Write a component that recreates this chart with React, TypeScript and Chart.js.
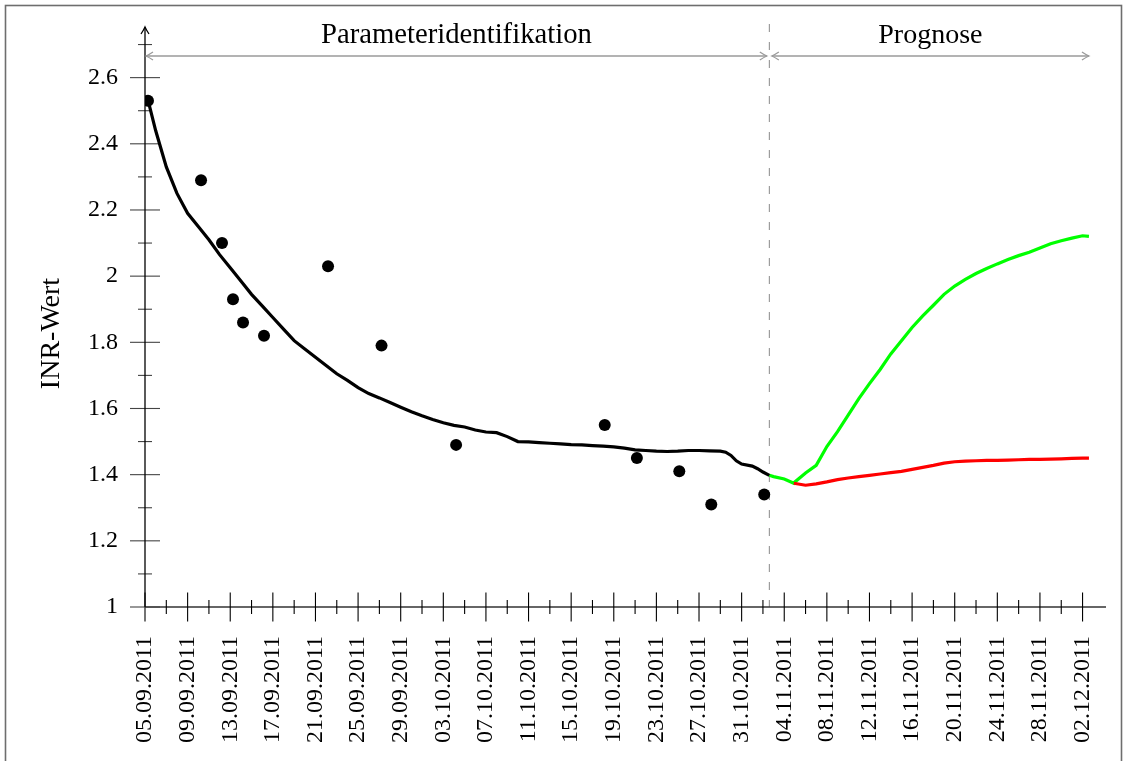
import { useEffect, useRef } from 'react';
import { Chart, registerables } from 'chart.js';

Chart.register(...registerables);

// ---- data (x = days after 05.09.2011) ----
const xTickDays = [0, 4, 8, 12, 16, 20, 24, 28, 32, 36, 40, 44, 48, 52, 56, 60, 64, 68, 72, 76, 80, 84, 88];
const xTickLabels = [
  '05.09.2011', '09.09.2011', '13.09.2011', '17.09.2011', '21.09.2011', '25.09.2011',
  '29.09.2011', '03.10.2011', '07.10.2011', '11.10.2011', '15.10.2011', '19.10.2011',
  '23.10.2011', '27.10.2011', '31.10.2011', '04.11.2011', '08.11.2011', '12.11.2011',
  '16.11.2011', '20.11.2011', '24.11.2011', '28.11.2011', '02.12.2011',
];
const xMinorDays = [2, 6, 10, 14, 18, 22, 26, 30, 34, 38, 42, 46, 50, 54, 58, 62, 66, 70, 74, 78, 82, 86];
const yTickValues = [1, 1.2, 1.4, 1.6, 1.8, 2, 2.2, 2.4, 2.6];
const yTickLabels = ['1', '1.2', '1.4', '1.6', '1.8', '2', '2.2', '2.4', '2.6'];
const yMinorValues = [1.1, 1.3, 1.5, 1.7, 1.9, 2.1, 2.3, 2.5, 2.7];

const measDays = [0.28, 5.26, 7.23, 8.26, 9.2, 11.17, 17.18, 22.2, 29.2, 43.15, 46.17, 50.15, 53.15, 58.12];
const measValues = [2.53, 2.29, 2.10, 1.93, 1.86, 1.82, 2.03, 1.79, 1.49, 1.55, 1.45, 1.41, 1.31, 1.34];

const fitDays = [0.3, 1, 2, 3, 4, 5, 6, 7, 8, 9, 10, 11, 12, 13, 14, 15, 16, 17, 18, 19, 20, 21, 22, 23, 24, 25, 26, 27, 28, 29, 30, 31, 32, 33, 34, 35, 36, 37, 38, 39, 40, 41, 42, 43, 44, 45, 46, 47, 48, 49, 50, 51, 52, 53, 54, 54.5, 55, 55.5, 56, 57, 57.5, 58, 58.6];
const fitValues = [2.53, 2.44, 2.33, 2.25, 2.19, 2.15, 2.11, 2.065, 2.025, 1.985, 1.945, 1.91, 1.875, 1.84, 1.805, 1.78, 1.755, 1.73, 1.705, 1.685, 1.663, 1.645, 1.632, 1.618, 1.604, 1.59, 1.578, 1.567, 1.557, 1.549, 1.544, 1.535, 1.529, 1.527, 1.515, 1.5, 1.499, 1.497, 1.495, 1.493, 1.491, 1.49, 1.488, 1.486, 1.484, 1.48, 1.475, 1.473, 1.471, 1.47, 1.471, 1.473, 1.473, 1.472, 1.471, 1.468, 1.458, 1.442, 1.432, 1.426, 1.418, 1.408, 1.398];

const greenDays = [58.6, 59, 60, 60.9, 61, 62, 63, 64, 65, 66, 67, 68, 69, 70, 71, 72, 73, 74, 75, 76, 77, 78, 79, 80, 81, 82, 83, 84, 85, 86, 87, 88, 88.6];
const greenValues = [1.398, 1.394, 1.387, 1.374, 1.378, 1.405, 1.428, 1.485, 1.53, 1.58, 1.63, 1.675, 1.718, 1.765, 1.805, 1.845, 1.88, 1.912, 1.945, 1.97, 1.99, 2.008, 2.023, 2.037, 2.05, 2.062, 2.072, 2.085, 2.098, 2.107, 2.115, 2.122, 2.12];

const redDays = [60.9, 62, 63, 64, 65, 66, 67, 68, 69, 70, 71, 72, 73, 74, 75, 76, 77, 78, 79, 80, 81, 82, 83, 84, 85, 86, 87, 88, 88.6];
const redValues = [1.374, 1.368, 1.372, 1.378, 1.385, 1.39, 1.394, 1.398, 1.402, 1.406, 1.41, 1.416, 1.422, 1.428, 1.435, 1.439, 1.441, 1.442, 1.443, 1.443, 1.444, 1.445, 1.446, 1.446, 1.447, 1.448, 1.449, 1.45, 1.45];

const splitDay = 58.6;
const prognoseEnd = 88.6;
const phaseLabels = ['Parameteridentifikation', 'Prognose'];
const yTitle = 'INR-Wert';

const pts = (xs: number[], ys: number[]) => xs.map((x, i) => ({ x, y: ys[i] }));

const SERIF = '"Liberation Serif", "DejaVu Serif", serif';

function arrowHead(ctx: CanvasRenderingContext2D, tx: number, ty: number, dir: number, len: number, half: number) {
  ctx.beginPath();
  ctx.moveTo(tx - dir * len, ty - half);
  ctx.quadraticCurveTo(tx - dir * len * 0.4, ty - half * 0.3, tx, ty);
  ctx.quadraticCurveTo(tx - dir * len * 0.4, ty + half * 0.3, tx - dir * len, ty + half);
  ctx.stroke();
}

const decorPlugin = {
  id: 'decor',
  beforeDatasetsDraw(chart: any) {
    const { ctx, scales } = chart;
    const xs = scales.x;
    const ys = scales.y;
    const x0 = xs.getPixelForValue(0);
    const y0 = ys.getPixelForValue(1);
    const xEnd = xs.right;
    ctx.save();

    // frame
    ctx.strokeStyle = '#6e6e6e';
    ctx.lineWidth = 1.6;
    ctx.strokeRect(5.5, 5.5, 1116, 800);

    // dashed split line
    const xsplit = xs.getPixelForValue(splitDay);
    ctx.strokeStyle = '#8a8a8a';
    ctx.lineWidth = 1;
    ctx.setLineDash([8, 10]);
    ctx.beginPath();
    ctx.moveTo(xsplit, 24);
    ctx.lineTo(xsplit, y0);
    ctx.stroke();
    ctx.setLineDash([]);

    // x axis line
    ctx.strokeStyle = '#333';
    ctx.lineWidth = 1.3;
    ctx.beginPath();
    ctx.moveTo(x0, y0);
    ctx.lineTo(xEnd, y0);
    ctx.stroke();

    // x ticks
    ctx.strokeStyle = '#000';
    ctx.lineWidth = 1.1;
    xTickDays.forEach((d) => {
      const px = xs.getPixelForValue(d);
      ctx.beginPath();
      ctx.moveTo(px, y0 - 14.5);
      ctx.lineTo(px, y0 + 14.5);
      ctx.stroke();
    });
    xMinorDays.forEach((d) => {
      const px = xs.getPixelForValue(d);
      ctx.beginPath();
      ctx.moveTo(px, y0 - 7);
      ctx.lineTo(px, y0 + 7);
      ctx.stroke();
    });

    // y ticks
    ctx.strokeStyle = '#444';
    yTickValues.forEach((v) => {
      const py = ys.getPixelForValue(v);
      ctx.beginPath();
      ctx.moveTo(x0 - 15, py);
      ctx.lineTo(x0 + 15, py);
      ctx.stroke();
    });
    yMinorValues.forEach((v) => {
      const py = ys.getPixelForValue(v);
      ctx.beginPath();
      ctx.moveTo(x0 - 7, py);
      ctx.lineTo(x0 + 7, py);
      ctx.stroke();
    });

    // y axis line with arrow
    ctx.strokeStyle = '#000';
    ctx.lineWidth = 1.3;
    ctx.beginPath();
    ctx.moveTo(x0, y0);
    ctx.lineTo(x0, ys.top - 1);
    ctx.stroke();
    ctx.save();
    ctx.translate(x0, ys.top - 1);
    ctx.rotate(-Math.PI / 2);
    arrowHead(ctx, 0, 0, 1, 7, 4);
    ctx.restore();

    // phase arrows
    const ay = 56;
    const xEndP = xs.getPixelForValue(prognoseEnd);
    ctx.strokeStyle = '#9a9a9a';
    ctx.lineWidth = 1.3;
    const segs = [[x0 + 1, xsplit - 2.5], [xsplit + 2.5, xEndP]];
    segs.forEach(([a, b]) => {
      ctx.beginPath();
      ctx.moveTo(a, ay);
      ctx.lineTo(b, ay);
      ctx.stroke();
      arrowHead(ctx, a, ay, -1, 7, 4);
      arrowHead(ctx, b, ay, 1, 7, 4);
    });

    // phase labels
    ctx.fillStyle = '#000';
    ctx.textAlign = 'center';
    ctx.textBaseline = 'alphabetic';
    ctx.font = `28.7px ${SERIF}`;
    ctx.fillText(phaseLabels[0], (segs[0][0] + segs[0][1]) / 2, 43);
    ctx.font = `28px ${SERIF}`;
    ctx.fillText(phaseLabels[1], (segs[1][0] + segs[1][1]) / 2, 43);

    // y title
    ctx.save();
    ctx.translate(59, 333.5);
    ctx.rotate(-Math.PI / 2);
    ctx.fillText(yTitle, 0, 0);
    ctx.restore();

    ctx.restore();
  },
};

export default function App() {
  const ref = useRef<HTMLCanvasElement | null>(null);

  useEffect(() => {
    document.body.style.margin = '0';
    document.body.style.overflow = 'hidden';
    if (!ref.current) return;
    const chart = new Chart(ref.current, {
      type: 'scatter',
      data: {
        datasets: [
          {
            label: 'Messwerte',
            data: pts(measDays, measValues),
            showLine: false,
            pointRadius: 6,
            pointBackgroundColor: '#000',
            pointBorderWidth: 0,
          },
          {
            label: 'Modell',
            data: pts(fitDays, fitValues),
            showLine: true,
            borderColor: '#000',
            borderWidth: 3.2,
            pointRadius: 0,
            tension: 0,
          },
          {
            label: 'Prognose rot',
            data: pts(redDays, redValues),
            showLine: true,
            borderColor: '#ff0000',
            borderWidth: 3.2,
            pointRadius: 0,
          },
          {
            label: 'Prognose grün',
            data: pts(greenDays, greenValues),
            showLine: true,
            borderColor: '#00ff00',
            borderWidth: 3.2,
            pointRadius: 0,
          },
        ],
      },
      options: {
        animation: false,
        responsive: false,
        events: [],
        layout: { padding: { top: 28, right: 21, left: 0, bottom: 0 } },
        plugins: { legend: { display: false }, tooltip: { enabled: false } },
        scales: {
          x: {
            type: 'linear',
            min: 0,
            max: 90.2,
            border: { display: false },
            grid: { display: false, drawTicks: false },
            afterBuildTicks: (s: any) => {
              s.ticks = xTickDays.map((v) => ({ value: v }));
            },
            afterFit: (s: any) => {
              s.height = 154;
              s.paddingLeft = 0;
              s.paddingRight = 0;
              s.paddingTop = 0;
              s.paddingBottom = 0;
            },
            ticks: {
              autoSkip: false,
              minRotation: 90,
              maxRotation: 90,
              padding: 29,
              color: '#000',
              font: { family: SERIF, size: 24 },
              callback: (v: any) => {
                const i = xTickDays.indexOf(Number(v));
                return i >= 0 ? xTickLabels[i] : '';
              },
            },
          },
          y: {
            type: 'linear',
            min: 1,
            max: 2.75,
            border: { display: false },
            grid: { display: false, drawTicks: false },
            afterBuildTicks: (s: any) => {
              s.ticks = yTickValues.map((v) => ({ value: v }));
            },
            afterFit: (s: any) => {
              s.width = 145;
              s.paddingLeft = 0;
              s.paddingRight = 0;
              s.paddingTop = 0;
              s.paddingBottom = 0;
            },
            ticks: {
              padding: 27,
              color: '#000',
              font: { family: SERIF, size: 24 },
              callback: (v: any) => {
                const i = yTickValues.indexOf(Number(v));
                return i >= 0 ? yTickLabels[i] : '';
              },
            },
          },
        },
      },
      plugins: [decorPlugin],
    });
    return () => chart.destroy();
  }, []);

  return (
    <div style={{ width: 1127, height: 761, position: 'relative', background: '#fff' }}>
      <canvas ref={ref} width={1127} height={761} style={{ display: 'block', width: 1127, height: 761 }} />
    </div>
  );
}
